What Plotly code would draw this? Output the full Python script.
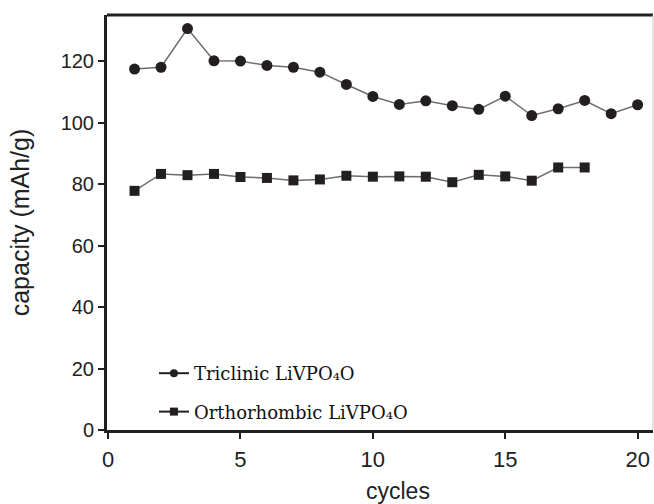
import plotly.graph_objects as go

cycles_tri = list(range(1, 21))
cap_tri = [117.4, 118.0, 130.6, 120.1, 120.0, 118.6, 118.0, 116.4, 112.4, 108.5,
           105.9, 107.1, 105.5, 104.3, 108.6, 102.3, 104.5, 107.2, 102.9, 105.8]
cycles_ortho = list(range(1, 19))
cap_ortho = [77.8, 83.3, 82.9, 83.3, 82.3, 82.0, 81.2, 81.5, 82.7, 82.4,
             82.5, 82.4, 80.6, 83.0, 82.5, 81.1, 85.4, 85.4]
x_ticks = [0, 5, 10, 15, 20]
y_ticks = [0, 20, 40, 60, 80, 100, 120]
name_tri = "Triclinic LiVPO₄O"
name_ortho = "Orthorhombic LiVPO₄O"
x_title = "cycles"
y_title = "capacity (mAh/g)"

DARK = "#231f20"
LINE = "#6d6d6d"
SANS = "Liberation Sans, Arial, sans-serif"

fig = go.Figure()
fig.add_trace(go.Scatter(
    x=cycles_tri, y=cap_tri, mode="lines+markers", name=name_tri,
    showlegend=False,
    line=dict(color=LINE, width=1.5),
    marker=dict(symbol="circle", size=11, color=DARK),
))
fig.add_trace(go.Scatter(
    x=cycles_ortho, y=cap_ortho, mode="lines+markers", name=name_ortho,
    showlegend=False,
    line=dict(color=LINE, width=1.5),
    marker=dict(symbol="square", size=10, color=DARK),
))
# legend entries (no data, legend only)
fig.add_trace(go.Scatter(
    x=[None], y=[None], mode="lines+markers", name=name_tri, legendgroup="a",
    line=dict(color=DARK, width=2),
    marker=dict(symbol="circle", size=8, color=DARK),
))
fig.add_trace(go.Scatter(
    x=[None], y=[None], mode="lines+markers", name=name_ortho, legendgroup="b",
    line=dict(color=DARK, width=2),
    marker=dict(symbol="square", size=8, color=DARK),
))

fig.update_layout(
    width=654, height=504,
    margin=dict(l=107, r=1, t=15, b=74),
    paper_bgcolor="white", plot_bgcolor="white",
    font=dict(family=SANS, size=20, color="#222"),
    legend=dict(
        x=0.086, y=0.0, xanchor="left", yanchor="bottom",
        bgcolor="rgba(0,0,0,0)", tracegroupgap=12,
        font=dict(family="DejaVu Serif, serif", size=18, color="#111"),
        itemwidth=30,
    ),
    xaxis=dict(
        range=[-0.04, 20.58], tickvals=x_ticks, showgrid=False, zeroline=False,
        showline=True, linewidth=3, linecolor=DARK, mirror=False,
        ticks="outside", ticklen=6, tickwidth=2, tickcolor=DARK,
        tickfont=dict(size=22), ticklabelstandoff=2,
        automargin=False,
    ),
    yaxis=dict(
        range=[0, 135], tickvals=y_ticks, showgrid=False, zeroline=False,
        showline=True, linewidth=3, linecolor=DARK,
        ticks="outside", ticklen=6, tickwidth=2, tickcolor=DARK,
        tickfont=dict(size=20),
        automargin=False,
        title=dict(text=y_title, standoff=24, font=dict(size=25)),
    ),
    annotations=[
        dict(text=x_title, xref="paper", yref="paper", x=0.533, y=-0.147,
             xanchor="center", yanchor="middle", showarrow=False,
             font=dict(family=SANS, size=23, color="#222")),
    ],
    shapes=[
        dict(type="line", xref="paper", yref="paper", x0=0, x1=1, y0=1, y1=1,
             line=dict(color=DARK, width=3)),
        dict(type="line", xref="paper", yref="paper", x0=1, x1=1, y0=0, y1=1,
             line=dict(color="#cccccc", width=1)),
    ],
)

fig.write_html("out.html", config={"displayModeBar": False},
               post_script="document.body.style.margin='0';document.body.style.overflow='hidden';")
